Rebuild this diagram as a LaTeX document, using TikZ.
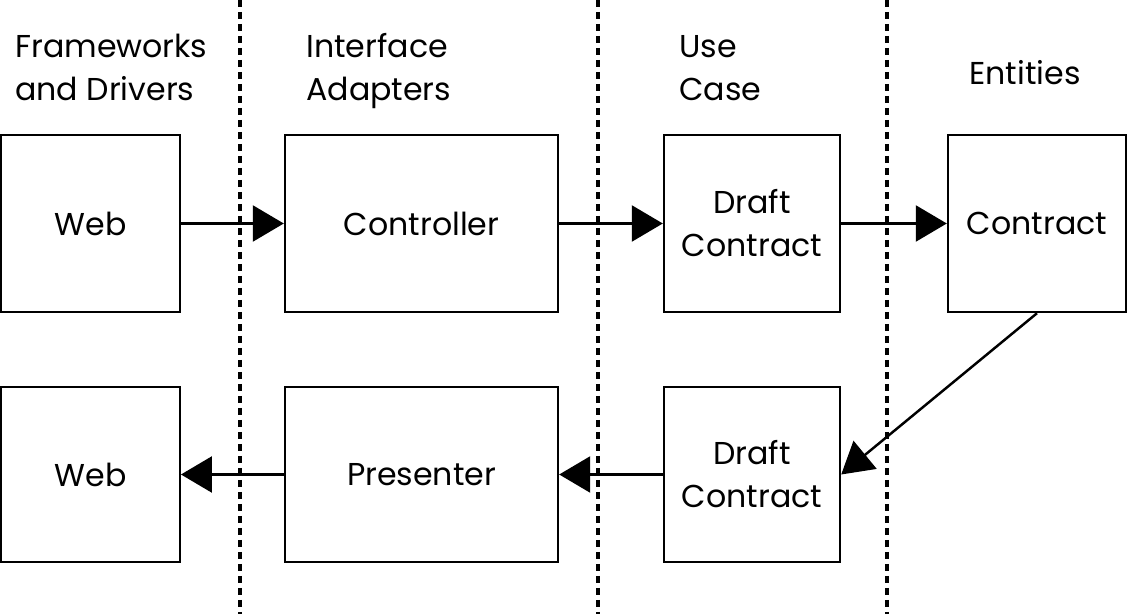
\documentclass[tikz,border=0pt]{standalone}
\usepackage{fontspec}
\setmainfont{Poppins}
\usetikzlibrary{arrows.meta}
\begin{document}
\begin{tikzpicture}[x=0.02cm, y=-0.02cm, line join=miter, font=\fontsize{18}{24.4}\selectfont, >={Triangle[length=0.62cm, width=0.72cm]}]
			\tikzset{layer box/.style={draw, line width=1.4pt, minimum height=3.54cm, align=center, inner sep=0pt},
				layer title/.style={anchor=north west, align=left, inner sep=0pt},
				border line/.style={line width=2pt, dash pattern=on 0.15cm off 0.09cm},
				flow/.style={->, line width=1.4pt}}
			\useasboundingbox (0,0) rectangle (1127,614);
			\draw[border line] (240,0)--(240,614);
			\draw[border line] (598,0)--(598,614);
			\draw[border line] (887,0)--(887,614);
			\node[layer title] (fwtitle) at (15,27) {\strut Frameworks\\and Drivers\strut};
			\node[layer title] (iatitle) at (306,27) {\strut Interface\\Adapters\strut};
			\node[layer title] (uctitle) at (679,27) {\strut Use\\Case\strut};
			\node[layer title, anchor=base west] (entitle) at (969,85) {Entities};
			\node[layer box, minimum width=3.57cm] (webin) at (90.5,223.5) {Web};
			\node[layer box, minimum width=5.46cm] (controller) at (421.5,223.5) {Controller};
			\node[layer box, minimum width=3.52cm] (draftin) at (752,223.5) {Draft\\Contract};
			\node[layer box, minimum width=3.56cm] (contract) at (1037,223.5) {Contract};
			\node[layer box, minimum width=3.57cm, minimum height=3.5cm] (webout) at (90.5,474.5) {Web};
			\node[layer box, minimum width=5.46cm, minimum height=3.5cm] (presenter) at (421.5,474.5) {Presenter};
			\node[layer box, minimum width=3.52cm, minimum height=3.5cm] (draftout) at (752,474.5) {Draft\\Contract};
			\draw[flow] (webin)--(controller);
			\draw[flow] (controller)--(draftin);
			\draw[flow] (draftin)--(contract);
			\draw[flow] (contract.south)--(draftout.east);
			\draw[flow] (draftout)--(presenter);
			\draw[flow] (presenter)--(webout);
		\end{tikzpicture}
\end{document}
